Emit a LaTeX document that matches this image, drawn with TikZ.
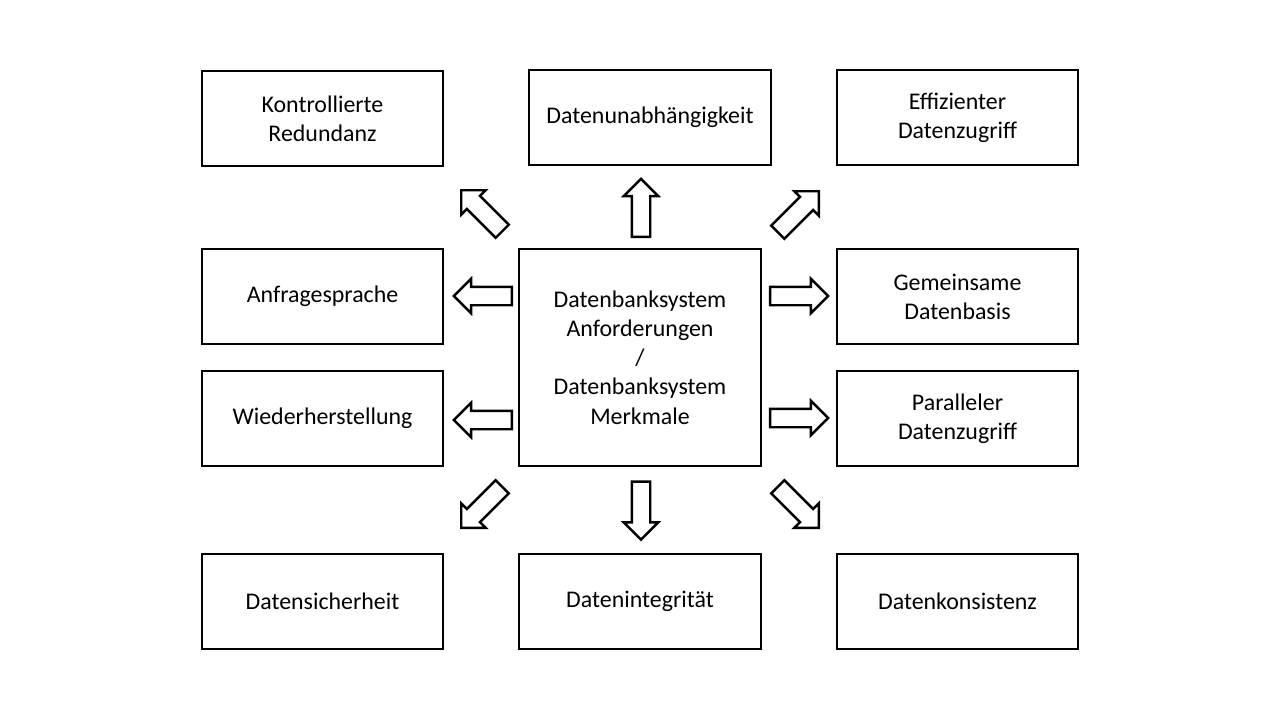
\documentclass[tikz,border=0pt]{standalone}
\usepackage{fontspec}
\setmainfont{Carlito}
\usetikzlibrary{arrows.meta, positioning, shapes.arrows}

\tikzset{
  featbox/.style={draw, line width=1pt, align=center, minimum width=4.82cm, minimum height=1.9cm, inner sep=2pt},
  blockarrow/.style={single arrow, draw, line width=1.4pt, fill=white, minimum height=1.16cm, inner sep=0pt, inner ysep=0.16cm, single arrow head extend=0.16cm}
}

\begin{document}
\begin{tikzpicture}[x=0.02cm, y=-0.02cm, font=\fontsize{13.6}{16.6}\selectfont]
    \useasboundingbox (0,0) rectangle (1280,720);

  % Centre
    \node[featbox, minimum width=4.84cm, minimum height=4.34cm] (dbs) at (640,357.5) {Datenbanksystem\\Anforderungen\\/\\Datenbanksystem\\Merkmale};

  % Top row
    \node[featbox] (redundanz) at (322.5,118.5) {Kontrollierte\\Redundanz};
    \node[featbox, minimum width=4.84cm] (unabh) at (650,117.5) {Datenunabhängigkeit};
    \node[featbox] (effizient) at (957.5,117.5) {Effizienter\\Datenzugriff};

  % Middle rows
    \node[featbox] (anfrage) at (322.5,296.5) {Anfragesprache};
    \node[featbox] (wieder) at (322.5,418.5) {Wiederherstellung};
    \node[featbox] (basis) at (957.5,296.5) {Gemeinsame\\Datenbasis};
    \node[featbox] (parallel) at (957.5,418.5) {Paralleler\\Datenzugriff};

  % Bottom row
    \node[featbox] (sicherheit) at (322.5,601.5) {Datensicherheit};
    \node[featbox, minimum width=4.84cm] (integritaet) at (640,601.5) {Datenintegrität};
    \node[featbox] (konsistenz) at (957.5,601.5) {Datenkonsistenz};

  % Arrows
    \node[blockarrow, rotate=90] (toUnabh) at (641,212.5) {};
    \node[blockarrow, rotate=-90] (toIntegritaet) at (641,506) {};
    \node[blockarrow, rotate=180] (toAnfrage) at (487.5,296) {};
    \node[blockarrow, rotate=180] (toWieder) at (487.5,420) {};
    \node[blockarrow] (toBasis) at (794.5,296) {};
    \node[blockarrow] (toParallel) at (794.5,418) {};
    \node[blockarrow, rotate=135] (toRedundanz) at (485,214) {};
    \node[blockarrow, rotate=45] (toEffizient) at (795,215) {};
    \node[blockarrow, rotate=-135] (toSicherheit) at (485,504) {};
    \node[blockarrow, rotate=-45] (toKonsistenz) at (795,504) {};

\end{tikzpicture}
\end{document}
